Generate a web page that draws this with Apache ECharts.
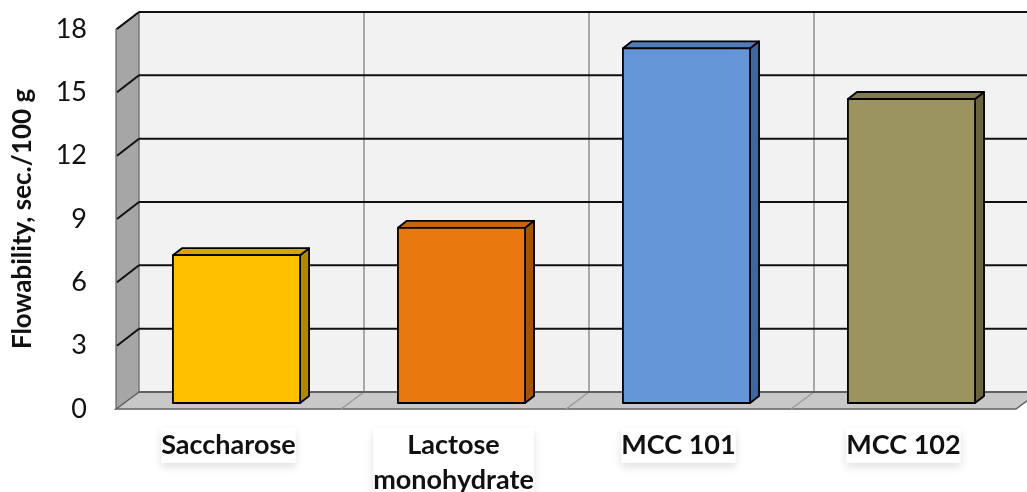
<!DOCTYPE html>
<html>
<head>
<meta charset="utf-8">
<script src="https://cdn.jsdelivr.net/npm/echarts@6/dist/echarts.min.js"></script>
<style>html,body{margin:0;padding:0;background:#fff;}#c{width:1027px;height:492px;}</style>
</head>
<body>
<div id="c"></div>
<script>
const categories = ['Saccharose', 'Lactose\nmonohydrate', 'MCC 101', 'MCC 102'];
const values = [7.0, 8.3, 16.8, 14.4];
const yTicks = { min: 0, max: 18, interval: 3 };
const axisTitle = 'Flowability, sec./100 g';

const frontColors = ['#ffc000', '#e8770e', '#6597d8', '#9c945f'];
const topColors = ['#d9a400', '#c5640b', '#4f7bb8', '#807a4c'];
const sideColors = ['#b28700', '#a4530a', '#3f669e', '#6a6540'];

// depth offsets (pixels)
const BACK = [23, -17];      // back wall relative to front plane
const BAR_OFF = [8, -6];     // bar front face relative to front plane
const BAR_DEPTH = [9, -7];   // bar depth

const chart = echarts.init(document.getElementById('c'));

function wallsRender(params, api) {
  const cs = params.coordSys;
  const ch = [];
  const bx = BACK[0], by = BACK[1];
  const y0 = api.coord([0, yTicks.min])[1];
  const yTop = api.coord([0, yTicks.max])[1];
  const xL = cs.x, xR = cs.x + cs.width;
  // back wall
  ch.push({ type: 'rect', shape: { x: xL + bx, y: yTop + by, width: cs.width, height: y0 - yTop }, style: { fill: '#f2f2f2' } });
  // floor
  ch.push({ type: 'polygon', shape: { points: [[xL + bx, y0 + by], [xR + bx, y0 + by], [xR, y0], [xL, y0]] }, style: { fill: '#c8c8c8', stroke: '#606060', lineWidth: 1.5 } });
  // left wall
  ch.push({ type: 'polygon', shape: { points: [[xL, yTop], [xL + bx, yTop + by], [xL + bx, y0 + by], [xL, y0]] }, style: { fill: '#a6a6a6', stroke: '#606060', lineWidth: 1.2 } });
  // vertical category separators on back wall and floor
  const n = categories.length;
  for (let k = 1; k < n; k++) {
    const x = xL + k * cs.width / n;
    ch.push({ type: 'line', shape: { x1: x + bx, y1: yTop + by, x2: x + bx, y2: y0 + by }, style: { stroke: '#a0a0a0', lineWidth: 1.8 } });
    ch.push({ type: 'line', shape: { x1: x + bx, y1: y0 + by, x2: x, y2: y0 }, style: { stroke: '#9a9a9a', lineWidth: 1.5 } });
  }
  // horizontal gridlines
  for (let v = yTicks.min; v <= yTicks.max; v += yTicks.interval) {
    const y = api.coord([0, v])[1];
    const col = v === 0 ? '#606060' : '#111';
    ch.push({ type: 'line', shape: { x1: xL + bx, y1: y + by, x2: xR + bx, y2: y + by }, style: { stroke: col, lineWidth: 2 } });
    if (v > 0) {
      ch.push({ type: 'line', shape: { x1: xL + 1, y1: y, x2: xL + bx, y2: y + by }, style: { stroke: '#111', lineWidth: 2 } });
    }
  }
  return { type: 'group', children: ch };
}

function barRender(params, api) {
  const i = api.value(0), v = api.value(1);
  const base = api.coord([i, 0]);
  const top = api.coord([i, v]);
  const bw = api.size([1, 0])[0] * 0.565;
  const x0 = base[0] + BAR_OFF[0] - bw / 2, x1 = x0 + bw;
  const yb = base[1] + BAR_OFF[1], yt = top[1] + BAR_OFF[1];
  const dx = BAR_DEPTH[0], dy = BAR_DEPTH[1];
  const st = { stroke: '#000', lineWidth: 1.8, lineJoin: 'round' };
  return {
    type: 'group',
    children: [
      { type: 'polygon', shape: { points: [[x1, yt], [x1 + dx, yt + dy], [x1 + dx, yb + dy], [x1, yb]] }, style: Object.assign({ fill: sideColors[i] }, st) },
      { type: 'polygon', shape: { points: [[x0, yt], [x0 + dx, yt + dy], [x1 + dx, yt + dy], [x1, yt]] }, style: Object.assign({ fill: topColors[i] }, st) },
      { type: 'rect', shape: { x: x0, y: yt, width: bw, height: yb - yt }, style: Object.assign({ fill: frontColors[i] }, st) }
    ]
  };
}

chart.setOption({
  animation: false,
  grid: { left: 116, top: 29, width: 900, height: 380, outerBoundsMode: 'none', containLabel: false },
  xAxis: {
    type: 'category',
    data: categories,
    axisLine: { show: false },
    axisTick: { show: false },
    axisLabel: {
      interval: 0,
      margin: 19,
      fontFamily: 'Lato',
      fontWeight: 'bold',
      fontSize: 27,
      lineHeight: 35,
      color: '#111',
      backgroundColor: '#fff',
      shadowColor: 'rgba(0,0,0,0.12)',
      shadowBlur: 8,
      shadowOffsetY: 4
    }
  },
  yAxis: {
    type: 'value',
    min: yTicks.min,
    max: yTicks.max,
    interval: yTicks.interval,
    name: axisTitle,
    nameLocation: 'middle',
    nameGap: 80,
    nameRotate: 90,
    nameTextStyle: { fontFamily: 'Lato', fontWeight: 'bold', fontSize: 26, color: '#111' },
    axisLine: { show: false },
    axisTick: { show: false },
    splitLine: { show: false },
    axisLabel: { margin: 29, fontFamily: 'Lato', fontSize: 27, color: '#111' }
  },
  series: [
    { type: 'custom', name: 'walls', renderItem: wallsRender, data: [[0, 0]], silent: true, z: 1 },
    { type: 'custom', name: 'Flowability', renderItem: barRender, data: values.map((v, i) => [i, v]), z: 2 }
  ]
});
</script>
</body>
</html>
